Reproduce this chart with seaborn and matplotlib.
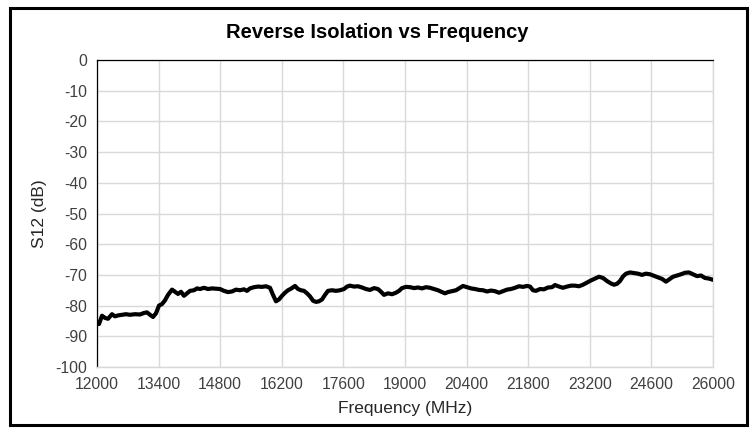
import matplotlib
matplotlib.use("Agg")
import matplotlib.pyplot as plt
import seaborn as sns
import pandas as pd
from matplotlib.patches import Rectangle

freq_mhz = [12000, 12045, 12114, 12182, 12250, 12341, 12409, 12477, 12568, 12659,
            12750, 12864, 12977, 13068, 13136, 13205, 13273, 13341, 13409, 13477,
            13545, 13614, 13705, 13773, 13841, 13909, 13977, 14045, 14114, 14205,
            14273, 14341, 14432, 14523, 14614, 14705, 14795, 14886, 14977, 15068,
            15159, 15250, 15341, 15409, 15477, 15568, 15659, 15750, 15841, 15932,
            16000, 16068, 16136, 16205, 16273, 16341, 16409, 16500, 16568, 16636,
            16705, 16773, 16841, 16909, 16977, 17045, 17114, 17182, 17250, 17341,
            17432, 17523, 17614, 17682, 17750, 17841, 17932, 18023, 18114, 18205,
            18295, 18386, 18455, 18523, 18614, 18705, 18795, 18864, 18932, 19023,
            19114, 19205, 19295, 19386, 19477, 19568, 19659, 19750, 19841, 19909,
            19977, 20068, 20159, 20250, 20318, 20409, 20500, 20591, 20682, 20773,
            20864, 20955, 21045, 21136, 21227, 21318, 21409, 21500, 21591, 21682,
            21773, 21841, 21909, 21977, 22068, 22159, 22250, 22341, 22409, 22500,
            22591, 22682, 22773, 22864, 22955, 23045, 23136, 23227, 23318, 23409,
            23500, 23591, 23682, 23750, 23818, 23886, 23955, 24023, 24114, 24205,
            24295, 24386, 24477, 24568, 24659, 24750, 24841, 24932, 25000, 25091,
            25182, 25273, 25364, 25455, 25545, 25636, 25727, 25818, 25909, 26000]

s12_db = [-85.7, -86.0, -83.3, -84.0, -84.3, -82.8, -83.5, -83.2, -83.0, -82.8,
          -83.0, -82.8, -82.9, -82.4, -82.2, -83.0, -83.7, -82.5, -80.0, -79.5,
          -78.3, -76.5, -74.8, -75.5, -76.2, -75.5, -76.8, -76.0, -75.2, -75.0,
          -74.4, -74.6, -74.2, -74.6, -74.4, -74.5, -74.6, -75.2, -75.6, -75.4,
          -74.8, -75.0, -74.7, -75.2, -74.4, -74.0, -73.8, -73.9, -73.7, -74.2,
          -76.5, -78.6, -78.0, -76.8, -75.8, -75.0, -74.5, -73.6, -74.6, -75.0,
          -75.2, -76.0, -77.0, -78.4, -78.8, -78.6, -78.0, -76.5, -75.2, -75.0,
          -75.2, -75.0, -74.6, -73.8, -73.5, -73.8, -73.7, -74.1, -74.6, -74.9,
          -74.3, -74.6, -75.5, -76.5, -76.0, -76.3, -75.8, -75.2, -74.3, -73.9,
          -74.0, -74.3, -74.1, -74.4, -74.0, -74.2, -74.6, -75.0, -75.6, -76.0,
          -75.6, -75.3, -75.0, -74.2, -73.6, -74.0, -74.4, -74.6, -74.9, -75.0,
          -75.4, -75.1, -75.3, -75.8, -75.3, -74.8, -74.6, -74.2, -73.7, -73.9,
          -73.6, -73.8, -75.0, -75.2, -74.6, -74.7, -74.1, -74.0, -73.3, -73.8,
          -74.2, -73.8, -73.5, -73.5, -73.7, -73.2, -72.5, -71.8, -71.2, -70.6,
          -71.0, -72.0, -72.8, -73.2, -72.9, -72.0, -70.5, -69.6, -69.2, -69.4,
          -69.6, -70.0, -69.6, -69.8, -70.3, -70.8, -71.3, -72.2, -71.5, -70.6,
          -70.2, -69.8, -69.3, -69.2, -69.8, -70.4, -70.2, -71.0, -71.2, -71.6]

x_ticks = list(range(12000, 26001, 1400))
y_ticks = list(range(-100, 1, 10))

title = "Reverse Isolation vs Frequency"
x_label = "Frequency (MHz)"
y_label = "S12 (dB)"

sns.set_style("white")
plt.rcParams['font.family'] = ['Liberation Sans', 'DejaVu Sans']
plt.rcParams['axes.unicode_minus'] = False

df = pd.DataFrame({"freq": freq_mhz, "s12": s12_db})

fig = plt.figure(figsize=(7.54, 4.32), dpi=100)
ax = fig.add_axes([97 / 754, 1 - 367 / 432, (713 - 97) / 754, (367 - 60) / 432])

sns.lineplot(data=df, x="freq", y="s12", ax=ax, color="black", linewidth=3.0,
             solid_joinstyle="round", solid_capstyle="round", zorder=3)

ax.set_xlim(12000, 26000)
ax.set_ylim(-100, 0)
ax.set_xticks(x_ticks)
ax.set_yticks(y_ticks)
ax.grid(True, color="#d9d9d9", linewidth=1.0, zorder=0)
ax.set_axisbelow(True)
ax.tick_params(axis="both", length=0, labelsize=11.3, colors="#404040", pad=7)
for s in ["bottom", "right"]:
    ax.spines[s].set_color("#d9d9d9")
    ax.spines[s].set_linewidth(1.0)
for s in ["left", "top"]:
    ax.spines[s].set_color("black")
    ax.spines[s].set_linewidth(0.9)

ax.set_xlabel(x_label, fontsize=12.5, color="#262626", labelpad=7)
ax.set_ylabel(y_label, fontsize=12.5, color="#262626", labelpad=6)
fig.text(0.5, 1 - 33 / 432, title, ha="center", va="center", fontsize=14.5,
         fontweight="bold", color="black")

fig.patches.append(Rectangle((10 / 754, 1 - 425 / 432), (747 - 10) / 754, (425 - 8) / 432,
                             transform=fig.transFigure, fill=False,
                             edgecolor="black", linewidth=2.2))

fig.savefig("out.png", dpi=100)
